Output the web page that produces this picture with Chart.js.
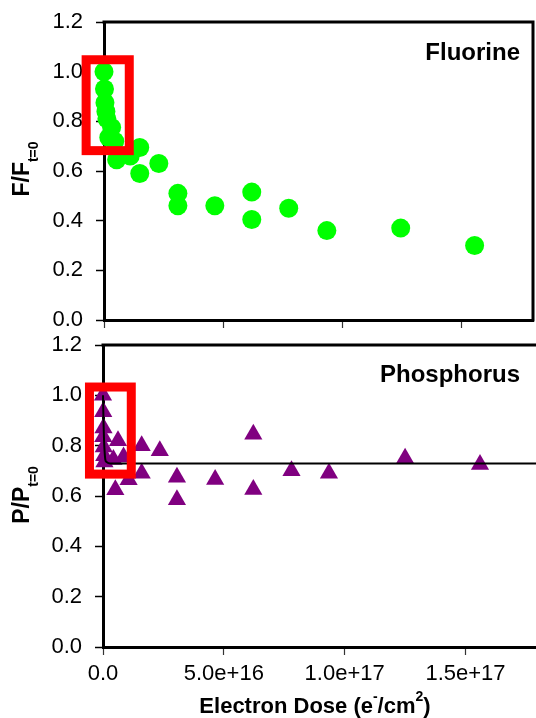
<!DOCTYPE html>
<html>
<head>
<meta charset="utf-8">
<script src="https://cdn.jsdelivr.net/npm/chart.js@4.4.1/dist/chart.umd.min.js"></script>
<style>
  html, body { margin: 0; padding: 0; overflow: hidden; background: #fff; }
  #wrap { position: relative; width: 536px; height: 718px; overflow: hidden; }
  #topChart { position: absolute; left: 0; top: 0; }
  #bottomChart { position: absolute; left: 0; top: 335px; }
</style>
</head>
<body>
<div id="wrap">
  <canvas id="topChart" width="536" height="335" style="width:536px;height:335px"></canvas>
  <canvas id="bottomChart" width="545" height="383" style="width:545px;height:383px"></canvas>
</div>
<script>
// Fluorine ratio vs electron dose
const fDose = [0, 2e14, 4e14, 8e14, 1.2e15, 3.2e15, 2e15, 4.5e15, 5.3e15, 1.1e16, 1.5e16, 1.5e16, 2.3e16,
  3.1e16, 3.1e16, 4.65e16, 6.2e16, 6.2e16, 7.75e16, 9.35e16, 1.245e17, 1.555e17];
const fRatio = [1.0, 0.93, 0.875, 0.84, 0.81, 0.775, 0.735, 0.72, 0.645, 0.66, 0.695, 0.59, 0.63,
  0.51, 0.46, 0.46, 0.515, 0.405, 0.45, 0.36, 0.37, 0.30];

// Phosphorus ratio vs electron dose
const pDose = [0, 1e14, 2e14, 1e14, 3e14, 5e14, 6e14, 4.3e15, 5.1e15, 6.2e15, 8.5e15, 1.06e16,
  1.6e16, 1.6e16, 2.35e16, 3.06e16, 3.06e16, 4.64e16, 6.22e16, 6.22e16, 7.8e16, 9.35e16, 1.25e17, 1.56e17];
const pRatio = [1.0, 0.935, 0.87, 0.835, 0.795, 0.76, 0.735, 0.745, 0.625, 0.82, 0.755, 0.665,
  0.80, 0.69, 0.78, 0.675, 0.585, 0.666, 0.845, 0.626, 0.70, 0.69, 0.75, 0.725];

// Fit line for phosphorus
const fitDose = [0, 2e14, 4e14, 6.5e14, 9.5e14, 1.5e15, 3e15, 1.8e17];
const fitRatio = [1.0, 0.9, 0.83, 0.78, 0.745, 0.735, 0.729, 0.729];

// Tick values
const doseTicks = [0, 5e16, 1e17, 1.5e17];
const ratioTicks = [0, 0.2, 0.4, 0.6, 0.8, 1.0, 1.2];

// Highlight boxes (xMin, xMax, yMin, yMax in data units)
const fBox = [-7.5e15, 1.06e16, 0.682, 1.048];
const pBox = [-5.6e15, 1.17e16, 0.687, 1.033];

const FONT = '"Liberation Sans", Arial, Helvetica, sans-serif';

function toPoints(xs, ys) {
  return xs.map((x, i) => ({ x: x, y: ys[i] }));
}

// draw a run of text pieces with sub/superscripts
function drawRich(ctx, parts, x, y) {
  let total = 0;
  parts.forEach(p => {
    ctx.font = p.font;
    p.w = ctx.measureText(p.text).width;
    total += p.w;
  });
  let cx = x - total / 2;
  parts.forEach(p => {
    ctx.font = p.font;
    ctx.fillText(p.text, cx, y + (p.dy || 0));
    cx += p.w;
  });
}

const decorPlugin = {
  id: 'decor',
  afterDatasetsDraw(chart, args, opts) {
    const ctx = chart.ctx;
    const a = chart.chartArea;
    const xs = chart.scales.x, ys = chart.scales.y;
    ctx.save();
    ctx.fillStyle = '#000';
    ctx.textAlign = 'left';
    ctx.textBaseline = 'alphabetic';

    // frame top / right
    ctx.strokeStyle = '#000';
    ctx.lineWidth = 3;
    ctx.beginPath();
    ctx.moveTo(a.left - 1.5, a.top);
    ctx.lineTo(a.right, a.top);
    if (opts.rightBorder) ctx.lineTo(a.right, a.bottom + 1.5);
    ctx.stroke();

    // red highlight box
    const b = opts.box;
    const x0 = xs.getPixelForValue(b[0]), x1 = xs.getPixelForValue(b[1]);
    const y0 = ys.getPixelForValue(b[3]), y1 = ys.getPixelForValue(b[2]);
    ctx.strokeStyle = '#ff0000';
    ctx.lineWidth = 9;
    ctx.strokeRect(x0, y0, x1 - x0, y1 - y0);

    // panel label
    ctx.font = 'bold 24px ' + FONT;
    ctx.textAlign = 'right';
    ctx.fillText(opts.label, opts.labelX, opts.labelY);
    ctx.textAlign = 'left';

    // y axis title (rotated)
    ctx.save();
    ctx.translate(29, opts.yTitleY);
    ctx.rotate(-Math.PI / 2);
    drawRich(ctx, [
      { text: opts.yTitle, font: 'bold 23px ' + FONT },
      { text: 't=0', font: 'bold 14px ' + FONT, dy: 9 }
    ], 0, 0);
    ctx.restore();

    // x axis title
    if (opts.xTitle) {
      const big = 'bold 22px ' + FONT, small = 'bold 14px ' + FONT;
      drawRich(ctx, [
        { text: 'Electron Dose (e', font: big },
        { text: '-', font: small, dy: -12 },
        { text: '/cm', font: big },
        { text: '2', font: small, dy: -12 },
        { text: ')', font: big }
      ], 315, 378);
    }
    ctx.restore();
  }
};

function makeScales(opts) {
  return {
    x: {
      type: 'linear',
      min: 0,
      max: 1.8e17,
      afterBuildTicks: s => { s.ticks = doseTicks.map(v => ({ value: v })); },
      afterFit: s => {
        s.height = opts.xHeight;
        s.paddingLeft = 0; s.paddingRight = 0;
      },
      grid: { drawOnChartArea: false, drawTicks: true, tickLength: 8, tickColor: '#333', tickWidth: 1.2 },
      border: { display: true, color: '#000', width: 3 },
      ticks: {
        display: opts.xLabels,
        padding: 6,
        color: '#000',
        font: { family: FONT, size: 22 },
        maxRotation: 0,
        callback: v => v === 0 ? '0.0' : Number(v).toExponential(1)
      }
    },
    y: {
      type: 'linear',
      min: 0,
      max: 1.2,
      afterBuildTicks: s => { s.ticks = ratioTicks.map(v => ({ value: v })); },
      afterFit: s => {
        s.width = opts.yWidth;
        s.paddingTop = 0; s.paddingBottom = 0;
      },
      grid: { drawOnChartArea: false, drawTicks: true, tickLength: 8, tickColor: '#000', tickWidth: 1.5 },
      border: { display: true, color: '#000', width: 3 },
      ticks: {
        padding: 13,
        color: '#000',
        font: { family: FONT, size: 22 },
        callback: v => Number(v).toFixed(1)
      }
    }
  };
}

new Chart(document.getElementById('topChart').getContext('2d'), {
  type: 'scatter',
  data: {
    datasets: [{
      label: 'Fluorine',
      data: toPoints(fDose, fRatio),
      pointStyle: 'circle',
      pointRadius: 9.5,
      pointBorderWidth: 0,
      backgroundColor: '#00ff00',
      borderColor: '#00ff00',
      clip: false
    }]
  },
  options: {
    responsive: false,
    animation: false,
    devicePixelRatio: 1,
    layout: { autoPadding: false, padding: { top: 22, right: 3, left: 0, bottom: 0 } },
    plugins: {
      legend: { display: false },
      tooltip: { enabled: false },
      decor: {
        box: fBox, rightBorder: true, label: 'Fluorine',
        labelX: 520, labelY: 60, yTitle: 'F/F', yTitleY: 169
      }
    },
    scales: makeScales({ xHeight: 15, yWidth: 104, xLabels: false })
  },
  plugins: [decorPlugin]
});

new Chart(document.getElementById('bottomChart').getContext('2d'), {
  type: 'scatter',
  data: {
    datasets: [{
      type: 'line',
      label: 'fit',
      data: toPoints(fitDose, fitRatio),
      borderColor: '#000',
      borderWidth: 2,
      pointRadius: 0,
      fill: false,
      cubicInterpolationMode: 'monotone',
      clip: false,
      order: 0
    }, {
      label: 'Phosphorus',
      data: toPoints(pDose, pRatio),
      pointStyle: 'triangle',
      pointRadius: 10.5,
      pointBorderWidth: 0,
      backgroundColor: '#800080',
      borderColor: '#800080',
      clip: false,
      order: 1
    }]
  },
  options: {
    responsive: false,
    animation: false,
    devicePixelRatio: 1,
    layout: { autoPadding: false, padding: { top: 10, right: 7, left: 0, bottom: 0 } },
    plugins: {
      legend: { display: false },
      tooltip: { enabled: false },
      decor: {
        box: pBox, rightBorder: false, label: 'Phosphorus',
        labelX: 520, labelY: 47, yTitle: 'P/P', yTitleY: 160, xTitle: true
      }
    },
    scales: makeScales({ xHeight: 71, yWidth: 103, xLabels: true })
  },
  plugins: [decorPlugin]
});
</script>
</body>
</html>
